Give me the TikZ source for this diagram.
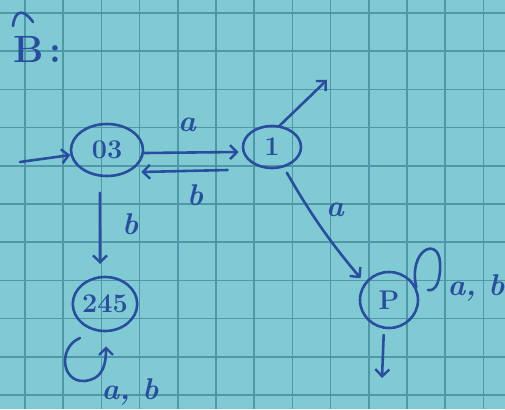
\documentclass[tikz,border=0pt]{standalone}
\usetikzlibrary{shapes.geometric,arrows.meta,calc}
\definecolor{paper}{HTML}{80CBD3}
\definecolor{gridc}{HTML}{4E98A8}
\definecolor{ink}{HTML}{2B4DA0}
\tikzset{
  ink/.style={draw=ink, line width=2.6pt, line cap=round, line join=round},
  ar/.style={ink, -{Straight Barb[length=7pt,width=14pt,line width=2.4pt]}},
  st/.style={ellipse, draw=ink, line width=2.6pt, inner sep=0pt, text=ink, font=\fontsize{27}{27}\selectfont\bfseries},
  lbl/.style={text=ink, font=\fontsize{30}{30}\selectfont\itshape\bfseries, inner sep=0pt},
  gridline/.style={draw=gridc, line width=1.5pt}
}
\begin{document}
\begin{tikzpicture}[x=1pt,y=-1pt]
\useasboundingbox (0,0) rectangle (505,409);
\fill[paper] (0,0) rectangle (505,409);
\foreach \i in {0,...,12} \draw[gridline] ({25+38.2*\i},0) -- ++(0,409);
\foreach \j in {0,...,10} \draw[gridline] (0,{13+38.2*\j}) -- ++(505,0);

% title
\node[text=ink, inner sep=0pt, font=\fontsize{38}{38}\selectfont\bfseries, anchor=west] (title) at (13,49) {B\,:};
\draw[ink] (13,26) .. controls (15,9) and (24,9) .. (33,22);

% states
\node[st, minimum width=72pt, minimum height=52pt] (q03) at (107,150) {03};
\node[st, minimum width=58pt, minimum height=42pt] (q1) at (272,147) {1};
\node[st, minimum width=64pt, minimum height=54pt] (q245) at (105,304) {245};
\node[st, minimum width=58pt, minimum height=56pt] (qP) at (389,300) {P};

% initial
\coordinate (i0) at (20,162);
\draw[ar] (i0) -- (q03);

% 03 <-> 1
\draw[ar] ($(q03.east)+(0,3)$) -- ($(q1.west)+(-3,5)$);
\node[lbl] (la) at (187,125) {a};
\draw[ar] ($(q1.west)+(-14,23)$) -- ($(q03.east)+(-3,22)$);
\node[lbl] (lb) at (195,195) {b};

% 1 final arrow
\coordinate (f1) at (327,80);
\draw[ar] (q1.70) -- (f1);

% 1 -> P
\draw[ar, shorten <=6pt, shorten >=6pt] (q1.-60) to[bend right=5] (qP.145);
\node[lbl] (la2) at (335,210) {a};

% P loop
\draw[ink] (qP.25) .. controls (408,250) and (438,236) .. (440,262) .. controls (441,280) and (436,292) .. (428,290);
\node[lbl] (lab2) at (476,288) {a, b};

% P final
\coordinate (fP) at (382,378);
\draw[ar, shorten <=6pt] (qP.-100) -- (fP);

% 03 -> 245
\draw[ar, shorten <=16pt, shorten >=12pt] (q03.-105) -- (q245.100);
\node[lbl] (lb2) at (130,224) {b};

% 245 loop
\coordinate (l245) at (80,338);
\draw[ar, shorten >=14pt] (l245) .. controls (56,348) and (62,388) .. (90,380) .. controls (104,376) and (106,362) .. (q245.-88);
\node[lbl] (lab1) at (130,392) {a, b};
\end{tikzpicture}
\end{document}
